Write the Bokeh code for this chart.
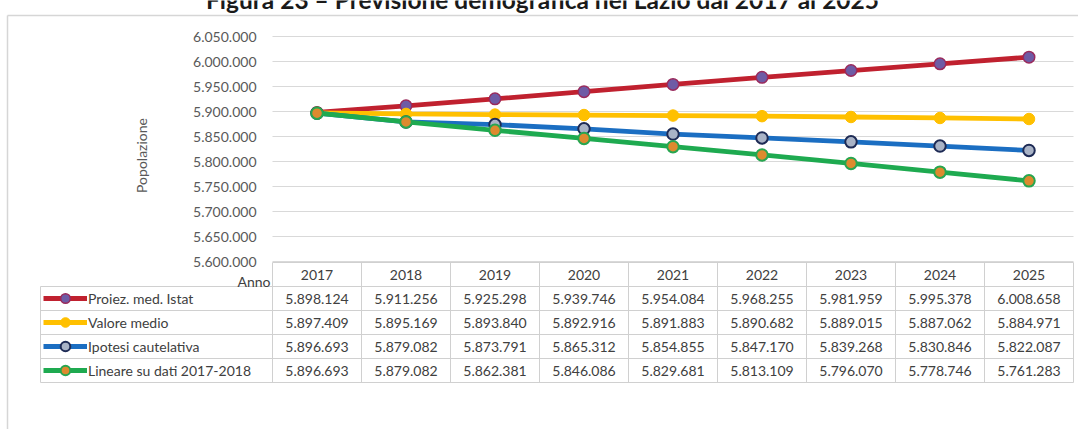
import math
from bokeh.plotting import figure
from bokeh.models import Range1d, ColumnDataSource, Legend, LegendItem
from bokeh.core.properties import value
from bokeh.embed import file_html
from bokeh.resources import INLINE

# ---------------- data ----------------
YEARS = ["2017", "2018", "2019", "2020", "2021", "2022", "2023", "2024", "2025"]
PROIEZ = [5898124, 5911256, 5925298, 5939746, 5954084, 5968255, 5981959, 5995378, 6008658]
VALORE = [5897409, 5895169, 5893840, 5892916, 5891883, 5890682, 5889015, 5887062, 5884971]
IPOTESI = [5896693, 5879082, 5873791, 5865312, 5854855, 5847170, 5839268, 5830846, 5822087]
LINEARE = [5896693, 5879082, 5862381, 5846086, 5829681, 5813109, 5796070, 5778746, 5761283]
SERIES_NAMES = ["Proiez. med. Istat", "Valore medio", "Ipotesi cautelativa", "Lineare su dati 2017-2018"]
Y_TICKS = [5600000, 5650000, 5700000, 5750000, 5800000, 5850000, 5900000, 5950000, 6000000, 6050000]
TITLE = "Figura 23 \u2013 Previsione demografica nel Lazio dal 2017 al 2025"
Y_LABEL = "Popolazione"
X_LABEL = "Anno"

# ---------------- layout (canvas pixels) ----------------
W, H = 1078, 429
COL_W = 89                   # px per year
FIRST_COL_CENTER = 316.5     # px of the first year
TICK_TOP_PX = 36             # px of the highest tick
TICK_STEP_PX = 25            # px between ticks
XN = [int(y) for y in YEARS]
UNITS_PER_PX = (Y_TICKS[1] - Y_TICKS[0]) / TICK_STEP_PX


def px_to_x(px):
    return XN[0] + (px - FIRST_COL_CENTER) / COL_W


def px_to_y(py):
    return Y_TICKS[-1] - (py - TICK_TOP_PX) * UNITS_PER_PX


def fmt(v):
    return f"{v:,}".replace(",", ".")


TEXT = "#404040"
AXIS_TEXT = "#595959"
GRID = "#D9D9D9"
TABLE_LINE = "#D0D0D0"
FONT = "Lato"

p = figure(width=W, height=H, output_backend="svg", toolbar_location=None,
           x_range=Range1d(px_to_x(0), px_to_x(W)),
           y_range=Range1d(px_to_y(H), px_to_y(0)),
           x_axis_location=None, y_axis_location=None,
           min_border_left=0, min_border_right=0, min_border_top=0, min_border_bottom=0,
           margin=0)
p.center = []
p.outline_line_color = None
p.background_fill_color = "white"
p.border_fill_color = "white"

X_LEFT = XN[0] - 0.5
X_RIGHT = XN[-1] + 0.5

# outer chart border
p.segment(x0=[px_to_x(7), px_to_x(7)], y0=[px_to_y(15), px_to_y(15)],
          x1=[px_to_x(7), px_to_x(W + 20)], y1=[px_to_y(H + 20), px_to_y(15)],
          line_color="#D6D6D6", line_width=1.5)

# gridlines at ticks
p.segment(x0=[X_LEFT] * len(Y_TICKS), y0=Y_TICKS, x1=[X_RIGHT] * len(Y_TICKS), y1=Y_TICKS,
          line_color=GRID, line_width=1)
# tick labels
p.text(x=[X_LEFT - 16 / COL_W] * len(Y_TICKS), y=Y_TICKS, text=[fmt(t) for t in Y_TICKS],
       text_align="right", text_baseline="middle", text_font=value(FONT),
       text_font_size="14px", text_color=AXIS_TEXT)
# axis title
p.text(x=[px_to_x(141)], y=[px_to_y(155)], text=[Y_LABEL], angle=math.pi / 2,
       text_align="center", text_baseline="middle", text_font=value(FONT),
       text_font_size="14px", text_color=AXIS_TEXT)

# ---------------- series ----------------
series = [
    (PROIEZ, "#C0212F", "#6E5BA5", "#9A2A5C", 1.5),
    (VALORE, "#FFC000", "#FFC000", "#FFC000", 1.0),
    (IPOTESI, "#1B6EC2", "#A9B3C6", "#1E2B55", 2.0),
    (LINEARE, "#1EAA50", "#DD8A2E", "#27A650", 2.0),
]
items = []
for name, (vals, lc, mf, ml, mlw) in zip(SERIES_NAMES, series):
    src = ColumnDataSource(dict(x=XN, y=vals))
    lr = p.line("x", "y", source=src, line_color=lc, line_width=4.8)
    sr = p.scatter("x", "y", source=src, marker="circle", size=11.5,
                   fill_color=mf, line_color=ml, line_width=mlw)
    items.append(LegendItem(label=name, renderers=[lr, sr]))

# ---------------- data table ----------------
HEADER_TOP, HEADER_BOTTOM = 262, 286
ROW_H = 24
LEGEND_LEFT = 40
n = len(SERIES_NAMES)
TABLE_BOTTOM = HEADER_BOTTOM + ROW_H * n

hx0, hy0, hx1, hy1 = [], [], [], []
hx0.append(X_LEFT); hx1.append(X_RIGHT); hy0.append(px_to_y(HEADER_TOP)); hy1.append(px_to_y(HEADER_TOP))
for i in range(n + 1):
    yy = px_to_y(HEADER_BOTTOM + i * ROW_H)
    hx0.append(px_to_x(LEGEND_LEFT)); hx1.append(X_RIGHT); hy0.append(yy); hy1.append(yy)
for j in range(len(YEARS) + 1):
    xx = X_LEFT + j
    hx0.append(xx); hx1.append(xx); hy0.append(px_to_y(HEADER_TOP)); hy1.append(px_to_y(TABLE_BOTTOM))
hx0.append(px_to_x(LEGEND_LEFT)); hx1.append(px_to_x(LEGEND_LEFT))
hy0.append(px_to_y(HEADER_BOTTOM)); hy1.append(px_to_y(TABLE_BOTTOM))
p.segment(x0=hx0, y0=hy0, x1=hx1, y1=hy1, line_color=TABLE_LINE, line_width=1)

# header texts
p.text(x=XN, y=[px_to_y((HEADER_TOP + HEADER_BOTTOM) / 2)] * len(YEARS), text=YEARS,
       text_align="center", text_baseline="middle", text_font=value(FONT),
       text_font_size="14px", text_color=TEXT)
p.text(x=[px_to_x(270)], y=[px_to_y(281)], text=[X_LABEL], text_align="right",
       text_baseline="middle", text_font=value(FONT), text_font_size="14px", text_color=TEXT)

# values
tx, ty, tt = [], [], []
for i, (vals, *_rest) in enumerate(series):
    yc = px_to_y(HEADER_BOTTOM + i * ROW_H + ROW_H / 2)
    for yr, v in zip(XN, vals):
        tx.append(yr)
        ty.append(yc)
        tt.append(fmt(v))
p.text(x=tx, y=ty, text=tt, text_align="center", text_baseline="middle",
       text_font=value(FONT), text_font_size="14px", text_color=TEXT)

# legend (first table column)
legend = Legend(items=items, location=(43, H - TABLE_BOTTOM),
                orientation="vertical", padding=0, margin=0, spacing=0,
                glyph_width=44, glyph_height=ROW_H, label_height=ROW_H, label_standoff=1,
                label_text_font=FONT, label_text_font_size="14px", label_text_color=TEXT,
                label_text_baseline="middle",
                border_line_color=None, background_fill_alpha=0)
p.add_layout(legend)

# title (partly cut at the top, as in the source)
p.text(x=[px_to_x(542)], y=[px_to_y(-1)], text=[TITLE], text_align="center",
       text_baseline="alphabetic", text_font=value(FONT), text_font_size="24.5px",
       text_font_style="bold", text_color="#1A1A1A")

open("out.html", "w").write(file_html(p, INLINE))
